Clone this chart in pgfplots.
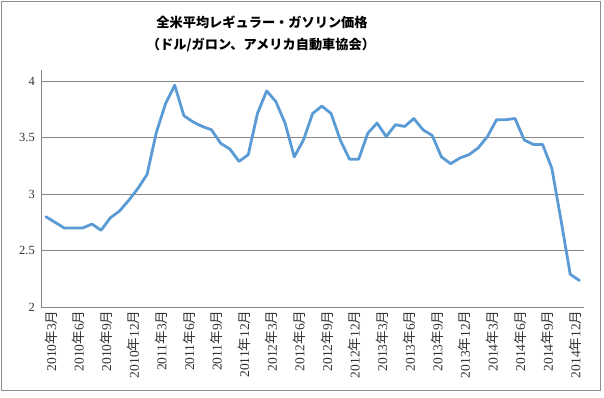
\documentclass[border=0pt]{standalone}
\usepackage{fontspec}
\usepackage{pgfplots}
\pgfplotsset{compat=1.18}
\setmainfont{Liberation Serif}
\newfontfamily\cjk{Noto Sans CJK JP}
\definecolor{linecol}{HTML}{5B9BD5}
\definecolor{gridgray}{HTML}{878787}
\definecolor{framegray}{HTML}{8C8C8C}
\definecolor{labgray}{HTML}{333333}
\pgfplotstableread{
i v
0 2.80
1 2.75
2 2.70
3 2.70
4 2.70
5 2.735
6 2.68
7 2.79
8 2.85
9 2.945
10 3.05
11 3.175
12 3.545
13 3.80
14 3.965
15 3.695
16 3.64
17 3.60
18 3.57
19 3.45
20 3.40
21 3.29
22 3.35
23 3.715
24 3.915
25 3.82
26 3.63
27 3.33
28 3.48
29 3.715
30 3.78
31 3.715
32 3.48
33 3.31
34 3.31
35 3.54
36 3.63
37 3.51
38 3.615
39 3.60
40 3.67
41 3.57
42 3.52
43 3.33
44 3.27
45 3.32
46 3.35
47 3.41
48 3.51
49 3.66
50 3.66
51 3.67
52 3.48
53 3.44
54 3.44
55 3.23
56 2.77
57 2.29
58 2.235
}\gas
\begin{document}
\begin{tikzpicture}
\path[use as bounding box] (0,0) rectangle (604bp,398bp);
\draw[framegray, line width=1bp] (1.5bp,7bp) rectangle (600bp,396.5bp);
\begin{axis}[
  at={(41.3bp,91bp)}, anchor=south west,
  scale only axis, width=542.7bp, height=237bp,
  xmin=-0.5, xmax=58.5, ymin=2, ymax=4.1,
  axis x line*=bottom, axis y line*=left,
  axis line style={-, draw=gridgray, line width=1bp},
  ymajorgrids, grid style={draw=gridgray, line width=1bp},
  major tick length=0pt,
  ytick={2,2.5,3,3.5,4},
  yticklabels={2,2.5,3,3.5,4},
  yticklabel style={font=\fontsize{12.5bp}{14bp}\selectfont, text=labgray, xshift=-3bp},
  xtick={0,3,...,57},
  xticklabels={
    2010{\cjk 年}3{\cjk 月},2010{\cjk 年}6{\cjk 月},2010{\cjk 年}9{\cjk 月},2010{\cjk 年}12{\cjk 月},
    2011{\cjk 年}3{\cjk 月},2011{\cjk 年}6{\cjk 月},2011{\cjk 年}9{\cjk 月},2011{\cjk 年}12{\cjk 月},
    2012{\cjk 年}3{\cjk 月},2012{\cjk 年}6{\cjk 月},2012{\cjk 年}9{\cjk 月},2012{\cjk 年}12{\cjk 月},
    2013{\cjk 年}3{\cjk 月},2013{\cjk 年}6{\cjk 月},2013{\cjk 年}9{\cjk 月},2013{\cjk 年}12{\cjk 月},
    2014{\cjk 年}3{\cjk 月},2014{\cjk 年}6{\cjk 月},2014{\cjk 年}9{\cjk 月},2014{\cjk 年}12{\cjk 月}},
  xticklabel style={rotate=90, anchor=east, font=\fontsize{13.5bp}{15bp}\selectfont, text=labgray, yshift=-5bp},
  clip=false,
]
\addplot[linecol, line width=2.8bp, line join=round, line cap=round] table[x=i, y=v] {\gas};
\end{axis}
\node[font=\cjk\bfseries\fontsize{13.2bp}{15bp}\selectfont] at (262bp,376bp) {全米平均レギュラー・ガソリン価格};
\node[font=\cjk\bfseries\fontsize{13.2bp}{15bp}\selectfont] at (261bp,353bp) {（ドル/ガロン、アメリカ自動車協会）};
\end{tikzpicture}
\end{document}
